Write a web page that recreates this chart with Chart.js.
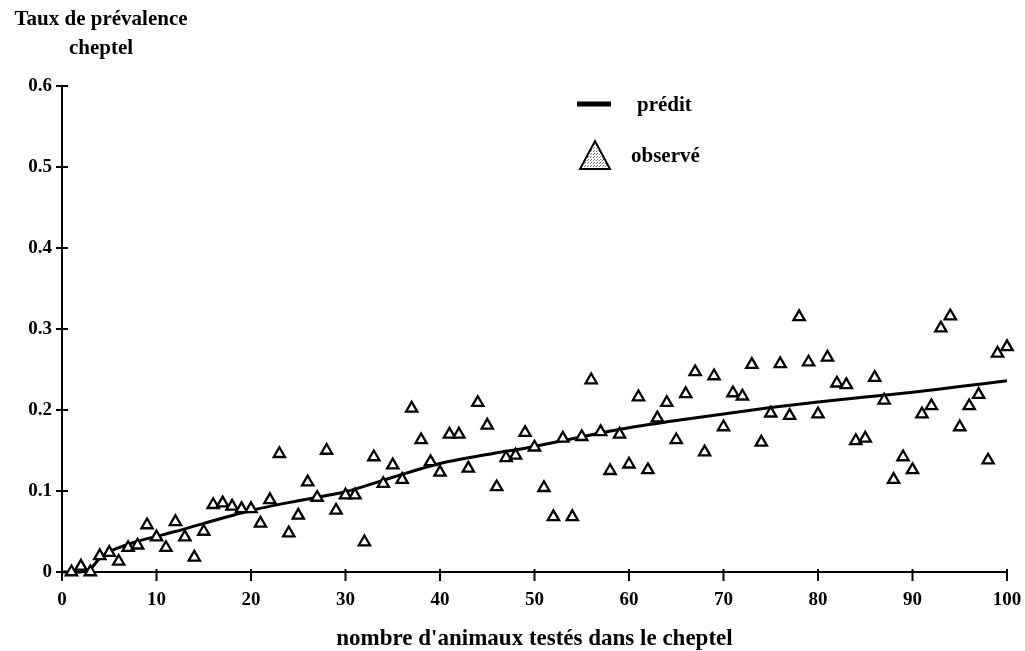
<!DOCTYPE html>
<html>
<head>
<meta charset="utf-8">
<title>Taux de prévalence cheptel</title>
<script src="https://cdn.jsdelivr.net/npm/chart.js@4.4.1/dist/chart.umd.min.js"></script>
<style>
  html, body { margin: 0; padding: 0; background: #fff; }
  #wrap { width: 1025px; height: 651px; position: relative; }
</style>
</head>
<body>
<div id="wrap"><canvas id="chart"></canvas></div>
<script>
// nombre d'animaux testés (x) et taux observé
const herdSize = [1, 2, 3, 4, 5, 6, 7, 8, 9, 10,
  11, 12, 13, 14, 15, 16, 17, 18, 19, 20,
  21, 22, 23, 24, 25, 26, 27, 28, 29, 30,
  31, 32, 33, 34, 35, 36, 37, 38, 39, 40,
  41, 42, 43, 44, 45, 46, 47, 48, 49, 50,
  51, 52, 53, 54, 55, 56, 57, 58, 59, 60,
  61, 62, 63, 64, 65, 66, 67, 68, 69, 70,
  71, 72, 73, 74, 75, 76, 77, 78, 79, 80,
  81, 82, 83, 84, 85, 86, 87, 88, 89, 90,
  91, 92, 93, 94, 95, 96, 97, 98, 99, 100];
const observed = [0, 0.007, 0, 0.02, 0.024, 0.013, 0.03, 0.033, 0.058, 0.043,
  0.03, 0.062, 0.043, 0.018, 0.05, 0.083, 0.085, 0.081, 0.078, 0.078,
  0.06, 0.089, 0.146, 0.048, 0.07, 0.111, 0.092, 0.15, 0.076, 0.095,
  0.095, 0.037, 0.142, 0.109, 0.132, 0.114, 0.202, 0.163, 0.136, 0.123,
  0.17, 0.17, 0.128, 0.209, 0.181, 0.105, 0.141, 0.144, 0.172, 0.154,
  0.104, 0.068, 0.165, 0.068, 0.167, 0.237, 0.173, 0.125, 0.17, 0.133,
  0.216, 0.126, 0.19, 0.209, 0.163, 0.22, 0.247, 0.148, 0.242, 0.179,
  0.221, 0.217, 0.256, 0.16, 0.196, 0.257, 0.193, 0.315, 0.259, 0.195,
  0.265, 0.233, 0.231, 0.162, 0.165, 0.24, 0.212, 0.114, 0.142, 0.126,
  0.195, 0.205, 0.301, 0.316, 0.179, 0.205, 0.219, 0.138, 0.27, 0.278];

// courbe prédite
const predX = [0, 2, 3, 4, 5, 6, 8, 10, 12, 15, 20, 25, 30, 35, 40, 45, 50,
  55, 60, 65, 70, 75, 80, 85, 90, 95, 100];
const predY = [0, 0, 0.004, 0.017, 0.025, 0.03, 0.038, 0.044, 0.05, 0.06, 0.076,
  0.088, 0.099, 0.117, 0.134, 0.145, 0.155, 0.167, 0.178, 0.187, 0.195, 0.203,
  0.21, 0.216, 0.222, 0.229, 0.236];

const xTicks = [0, 10, 20, 30, 40, 50, 60, 70, 80, 90, 100];
const yTicks = [0, 0.1, 0.2, 0.3, 0.4, 0.5, 0.6];

const FONT = '"Liberation Serif", "Times New Roman", serif';

// small dotted pattern for the legend triangle
function stipple(ctx) {
  const c = document.createElement('canvas');
  c.width = 3; c.height = 3;
  const p = c.getContext('2d');
  p.fillStyle = '#fff';
  p.fillRect(0, 0, 3, 3);
  p.fillStyle = '#777';
  p.fillRect(0, 0, 1, 1);
  p.fillRect(2, 1, 1, 1);
  return ctx.createPattern(c, 'repeat');
}

const decor = {
  id: 'decor',
  afterDraw(chart) {
    const ctx = chart.ctx;
    const xs = chart.scales.x, ys = chart.scales.y;
    ctx.save();
    ctx.strokeStyle = '#000';
    ctx.lineWidth = 2;
    // crossing ticks
    xTicks.forEach(v => {
      const px = xs.getPixelForValue(v);
      ctx.beginPath();
      ctx.moveTo(px, ys.bottom - 3);
      ctx.lineTo(px, ys.bottom + 9);
      ctx.stroke();
    });
    yTicks.forEach(v => {
      const py = ys.getPixelForValue(v);
      ctx.beginPath();
      ctx.moveTo(xs.left - 6, py);
      ctx.lineTo(xs.left + 6, py);
      ctx.stroke();
    });

    // y axis title (two centred lines)
    ctx.fillStyle = '#000';
    ctx.textAlign = 'center';
    ctx.textBaseline = 'middle';
    ctx.font = 'bold 21px ' + FONT;
    ctx.fillText('Taux de prévalence', 101, 20);
    ctx.fillText('cheptel', 101, 49);

    // legend
    ctx.lineWidth = 5;
    ctx.beginPath();
    ctx.moveTo(577, 104);
    ctx.lineTo(611, 104);
    ctx.stroke();
    ctx.textAlign = 'left';
    ctx.font = 'bold 21px ' + FONT;
    ctx.fillText('prédit', 637, 106);

    ctx.beginPath();
    ctx.moveTo(595, 141);
    ctx.lineTo(610, 169);
    ctx.lineTo(580, 169);
    ctx.closePath();
    ctx.fillStyle = stipple(ctx);
    ctx.fill();
    ctx.lineWidth = 2;
    ctx.stroke();
    ctx.fillStyle = '#000';
    ctx.fillText('observé', 631, 157);
    ctx.restore();
  }
};

new Chart(document.getElementById('chart'), {
  type: 'scatter',
  data: {
    datasets: [
      {
        label: 'prédit',
        type: 'line',
        data: predX.map((x, i) => ({ x: x, y: predY[i] })),
        borderColor: '#000',
        borderWidth: 3,
        pointRadius: 0,
        tension: 0.3,
        fill: false,
        clip: false,
        order: 2
      },
      {
        label: 'observé',
        data: herdSize.map((x, i) => ({ x: x, y: observed[i] })),
        pointStyle: 'triangle',
        pointRadius: 6.5,
        pointBorderWidth: 2.3,
        pointBackgroundColor: '#fff',
        pointBorderColor: '#000',
        clip: false,
        order: 1
      }
    ]
  },
  options: {
    responsive: true,
    maintainAspectRatio: false,
    animation: false,
    layout: { padding: { left: 0, right: 18, top: 86, bottom: 0 } },
    plugins: {
      legend: { display: false },
      tooltip: { enabled: false }
    },
    scales: {
      x: {
        type: 'linear',
        min: 0,
        max: 100,
        afterFit: s => { s.height = 79; s.paddingLeft = 0; s.paddingRight = 0; },
        afterBuildTicks: s => { s.ticks = xTicks.map(v => ({ value: v })); },
        grid: { drawOnChartArea: false, drawTicks: false },
        border: { display: true, color: '#000', width: 2 },
        ticks: {
          padding: 17,
          color: '#000',
          font: { family: FONT, size: 19, weight: 'bold' }
        },
        title: {
          display: true,
          text: "nombre d'animaux testés dans le cheptel",
          color: '#000',
          padding: { top: 0, bottom: 0 },
          font: { family: FONT, size: 23, weight: 'bold', lineHeight: 1 }
        }
      },
      y: {
        min: 0,
        max: 0.6,
        afterFit: s => { s.width = 62; s.paddingTop = 0; s.paddingBottom = 0; },
        afterBuildTicks: s => { s.ticks = yTicks.map(v => ({ value: v })); },
        grid: { drawOnChartArea: false, drawTicks: false },
        border: { display: true, color: '#000', width: 2 },
        ticks: {
          padding: 10,
          color: '#000',
          font: { family: FONT, size: 19, weight: 'bold' },
          callback: v => v === 0 ? '0' : String(v)
        }
      }
    }
  },
  plugins: [decor]
});
</script>
</body>
</html>
